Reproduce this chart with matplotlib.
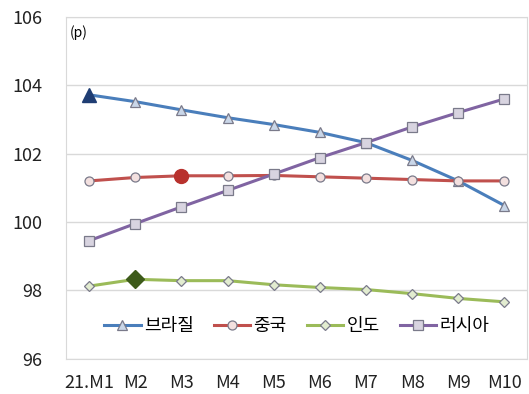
import matplotlib
matplotlib.use("Agg")
import matplotlib.pyplot as plt
from matplotlib.lines import Line2D

plt.rcParams['font.family'] = ['Noto Sans CJK KR', 'DejaVu Sans']

months = ["21.M1", "M2", "M3", "M4", "M5", "M6", "M7", "M8", "M9", "M10"]
brazil = [103.72, 103.52, 103.28, 103.05, 102.85, 102.62, 102.32, 101.80, 101.20, 100.48]
china = [101.20, 101.30, 101.35, 101.35, 101.36, 101.32, 101.28, 101.24, 101.20, 101.20]
india = [98.12, 98.32, 98.28, 98.28, 98.16, 98.08, 98.02, 97.90, 97.76, 97.66]
russia = [99.45, 99.95, 100.44, 100.92, 101.40, 101.88, 102.32, 102.78, 103.20, 103.60]
names = ["브라질", "중국", "인도", "러시아"]

series = [
    (brazil, "#4A7EBB", "^", "#c9d6e8", 0, "#1f3d73"),
    (china, "#C0504D", "o", "#f3e0df", 2, "#b8312d"),
    (india, "#9BBB59", "D", "#e2ecd0", 1, "#3d5a1a"),
    (russia, "#8064A2", "s", "#d8d4e0", None, None),
]

fig = plt.figure(figsize=(5.29, 3.94), dpi=100)
ax = fig.add_axes([0.125, 0.09, 0.872, 0.867])

x = list(range(len(months)))
handles = []
for (vals, col, mk, fill, hi, hicol), name in zip(series, names):
    ms = 6.5 if mk != "D" else 5.5
    ax.plot(x, vals, color=col, lw=2.2, marker=mk, ms=ms,
            mfc=fill, mec="#7a7a8a", mew=0.9, zorder=3)
    if hi is not None:
        ax.plot([x[hi]], [vals[hi]], linestyle="none", marker=mk, ms=ms + 3.5,
                mfc=hicol, mec=hicol, zorder=4)
    handles.append(Line2D([], [], color=col, lw=2.2, marker=mk, ms=ms,
                          mfc=fill, mec="#7a7a8a", mew=0.9, label=name))

ax.set_xlim(-0.5, len(months) - 0.5)
ax.set_ylim(96, 106)
ax.set_yticks([96, 98, 100, 102, 104, 106])
ax.set_xticks(x)
ax.set_xticklabels(months)
ax.tick_params(axis="both", length=0, labelsize=13, colors="#222222")
ax.tick_params(axis="y", pad=17)
ax.tick_params(axis="x", pad=11)
ax.grid(axis="y", color="#d9d9d9", lw=1)
ax.set_axisbelow(True)
for s in ax.spines.values():
    s.set_color("#d9d9d9")

ax.text(0.008, 0.975, "(p)", transform=ax.transAxes, fontsize=10, va="top", ha="left")

ax.legend(handles=handles, loc="lower center", bbox_to_anchor=(0.5, 0.02), ncol=4,
          frameon=False, fontsize=13, handlelength=2.0, handletextpad=0.2,
          columnspacing=1.1)

fig.savefig("out.png", dpi=100)
